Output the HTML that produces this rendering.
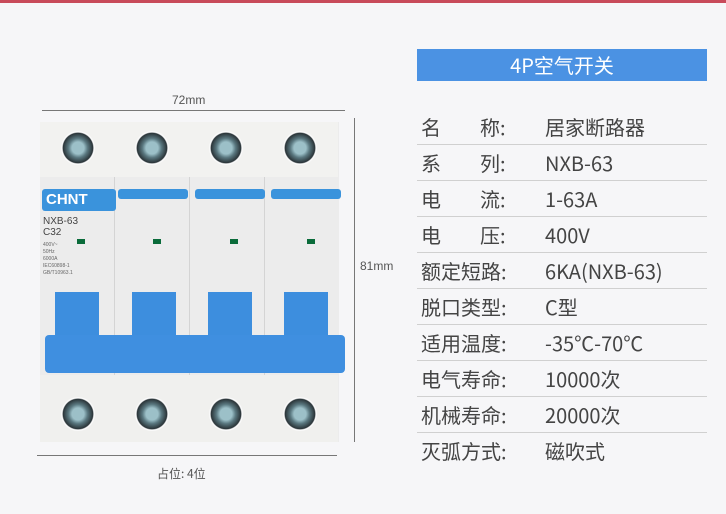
<!DOCTYPE html>
<html><head><meta charset="utf-8"><style>
body{margin:0;width:726px;height:514px;background:#f6f6f8;position:relative;overflow:hidden;font-family:"Liberation Sans","Noto Sans CJK SC",sans-serif}
.a{position:absolute}
.row{position:absolute;left:417px;width:290px;height:36px;border-bottom:1px solid #d0d0d0;font-size:20px;color:#444;font-family:"Noto Sans CJK SC",sans-serif}
.row span{position:absolute;top:4px}
.screw{position:absolute;width:34px;height:34px;border-radius:50%;background:radial-gradient(circle,#9cc0c8 0 25%,#5a7880 40%,#2a3438 62%,#fafafa 66%)}
.pole{position:absolute;top:0;height:320px;width:74px;background:#ececec;border-right:1px solid #d4d4d4}
</style></head><body>
<div class="a" style="left:0;top:0;width:726px;height:3px;background:#c84a5a"></div>
<div class="a" style="left:42px;top:110px;width:303px;height:1px;background:#777"></div>
<div class="a" style="left:172px;top:93px;font-size:12px;color:#555">72mm</div>
<div class="a" style="left:354px;top:118px;width:1px;height:324px;background:#777"></div>
<div class="a" style="left:360px;top:259px;font-size:12px;color:#555">81mm</div>
<div class="a" style="left:37px;top:455px;width:300px;height:1px;background:#777"></div>
<div class="a" style="left:157px;top:465px;font-size:12px;color:#555;font-family:'Noto Sans CJK SC',sans-serif">占位: 4位</div>
<div class="a" style="left:40px;top:122px;width:298px;height:320px;background:#eee">
 <div class="pole" style="left:0"></div><div class="pole" style="left:75px"></div><div class="pole" style="left:150px"></div><div class="pole" style="left:225px;border:none"></div>
 <div class="a" style="left:0;top:0;width:298px;height:55px;background:#f2f2f0"></div>
 <div class="screw" style="left:21px;top:9px"></div><div class="screw" style="left:95px;top:9px"></div><div class="screw" style="left:169px;top:9px"></div><div class="screw" style="left:243px;top:9px"></div>
 <div class="a" style="left:2px;top:67px;width:70px;height:22px;background:#3a93dc;border-radius:3px;color:#fff;font-weight:bold;font-size:15px;padding-left:4px;line-height:22px">CHNT</div>
 <div class="a" style="left:78px;top:67px;width:70px;height:10px;background:#3a93dc;border-radius:3px"></div>
 <div class="a" style="left:155px;top:67px;width:70px;height:10px;background:#3a93dc;border-radius:3px"></div>
 <div class="a" style="left:231px;top:67px;width:70px;height:10px;background:#3a93dc;border-radius:3px"></div>
 <div class="a" style="left:3px;top:94px;font-size:10px;color:#444;line-height:11px">NXB-63<br>C32</div>
 <div class="a" style="left:3px;top:120px;font-size:5px;color:#666;line-height:7px">400V~<br>50Hz<br>6000A<br>IEC60898-1<br>GB/T10963.1</div>
 <div class="a" style="left:37px;top:117px;width:8px;height:5px;background:#0a6b3a"></div>
 <div class="a" style="left:113px;top:117px;width:8px;height:5px;background:#0a6b3a"></div>
 <div class="a" style="left:190px;top:117px;width:8px;height:5px;background:#0a6b3a"></div>
 <div class="a" style="left:267px;top:117px;width:8px;height:5px;background:#0a6b3a"></div>
 <div class="a" style="left:15px;top:170px;width:44px;height:45px;background:#3d8ede"></div>
 <div class="a" style="left:92px;top:170px;width:44px;height:45px;background:#3d8ede"></div>
 <div class="a" style="left:168px;top:170px;width:44px;height:45px;background:#3d8ede"></div>
 <div class="a" style="left:244px;top:170px;width:44px;height:45px;background:#3d8ede"></div>
 <div class="a" style="left:5px;top:213px;width:300px;height:38px;background:#3f8fe0;border-radius:4px"></div>
 <div class="a" style="left:0;top:253px;width:298px;height:67px;background:#f0f0ee"></div>
 <div class="screw" style="left:21px;top:275px"></div><div class="screw" style="left:95px;top:275px"></div><div class="screw" style="left:169px;top:275px"></div><div class="screw" style="left:243px;top:275px"></div>
</div>
<div class="a" style="left:417px;top:49px;width:290px;height:32px;background:#4b92e3;color:#fff;font-size:20px;text-align:center;line-height:32px;font-family:'Noto Sans CJK SC',sans-serif">4P空气开关</div>
<div class="row" style="top:108px"><span style="left:4px">名</span><span style="left:63px">称:</span><span style="left:128px">居家断路器</span></div>
<div class="row" style="top:144px"><span style="left:4px">系</span><span style="left:63px">列:</span><span style="left:128px">NXB-63</span></div>
<div class="row" style="top:180px"><span style="left:4px">电</span><span style="left:63px">流:</span><span style="left:128px">1-63A</span></div>
<div class="row" style="top:216px"><span style="left:4px">电</span><span style="left:63px">压:</span><span style="left:128px">400V</span></div>
<div class="row" style="top:252px"><span style="left:4px">额定短路:</span><span style="left:128px">6KA(NXB-63)</span></div>
<div class="row" style="top:288px"><span style="left:4px">脱口类型:</span><span style="left:128px">C型</span></div>
<div class="row" style="top:324px"><span style="left:4px">适用温度:</span><span style="left:128px">-35℃-70℃</span></div>
<div class="row" style="top:360px"><span style="left:4px">电气寿命:</span><span style="left:128px">10000次</span></div>
<div class="row" style="top:396px"><span style="left:4px">机械寿命:</span><span style="left:128px">20000次</span></div>
<div class="row" style="top:432px;border:none"><span style="left:4px">灭弧方式:</span><span style="left:128px">磁吹式</span></div>
</body></html>
